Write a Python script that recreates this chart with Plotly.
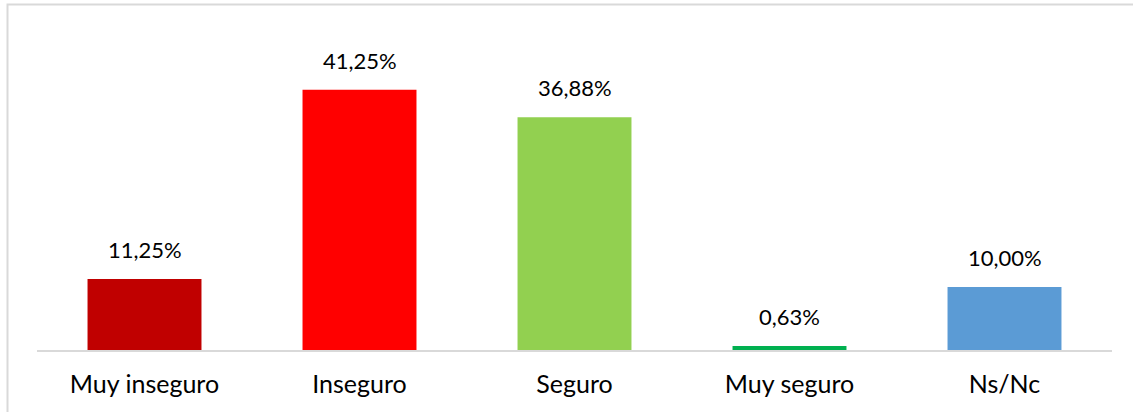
import plotly.graph_objects as go

categories = ["Muy inseguro", "Inseguro", "Seguro", "Muy seguro", "Ns/Nc"]
values = [11.25, 41.25, 36.88, 0.63, 10.00]
colors = ["#C00000", "#FF0000", "#92D050", "#00B050", "#5B9BD5"]

labels = [f"{v:.2f}".replace(".", ",") + "%" for v in values]

W, H = 1133, 412
ml, mr, mt, mb = 37, 21, 66, 62
pw, ph = W - ml - mr, H - mt - mb

FONT = "Lato, Open Sans, sans-serif"

fig = go.Figure(go.Bar(
    x=categories, y=values, marker=dict(color=colors, line=dict(width=0)),
    width=0.53, hoverinfo="x+y",
))

for c, v, t in zip(categories, values, labels):
    fig.add_annotation(x=c, y=v, text=t, showarrow=False, yanchor="bottom",
                       yshift=14, font=dict(size=22, color="#000000", family=FONT))

# frame (left and top edges visible)
fx = (7.5 - ml) / pw
fy = 1 + (mt - 4.5) / ph
fig.add_shape(type="path", xref="paper", yref="paper",
              path=f"M {fx},-0.5 L {fx},{fy} L 1.2,{fy}",
              line=dict(color="#D9D9D9", width=2))

fig.update_layout(
    width=W, height=H, margin=dict(l=ml, r=mr, t=mt, b=mb),
    paper_bgcolor="white", plot_bgcolor="white", showlegend=False,
    font=dict(family=FONT, size=25, color="#000000"),
)
fig.update_xaxes(showline=True, linecolor="#D9D9D9", linewidth=1.5,
                 ticks="", ticklabelstandoff=11,
                 tickfont=dict(size=25, color="#000000", family=FONT))
fig.update_yaxes(range=[0, 45], visible=False, showgrid=False, zeroline=False)

fig.write_html("out.html", config={"displayModeBar": False},
               post_script="document.body.style.margin='0';")
